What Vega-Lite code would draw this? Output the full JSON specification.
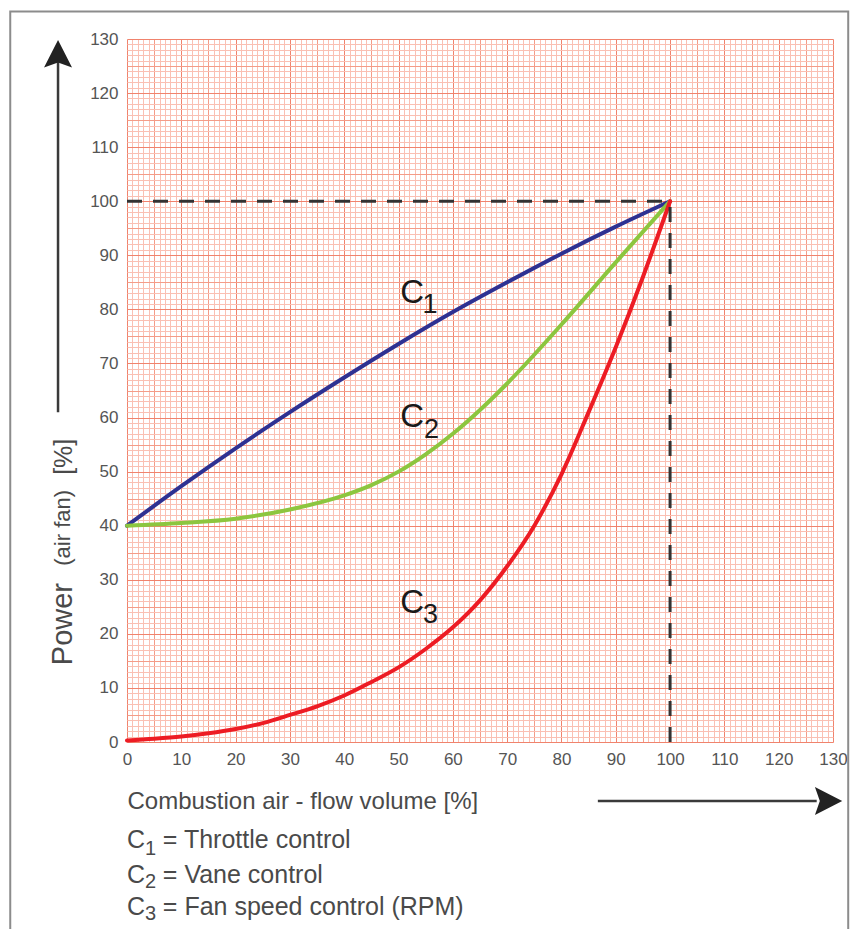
{
  "$schema": "https://vega.github.io/schema/vega-lite/v6.json",
  "width": 706,
  "height": 703,
  "autosize": {"type": "none"},
  "padding": {"left": 127, "top": 39, "right": 18, "bottom": 187},
  "background": "white",
  "config": {"view": {"stroke": null}, "font": "Liberation Sans"},
  "layer": [
    {
      "data": {"values": [{"x1": -21.5, "x2": 132.8, "y1": 135.1, "y2": -40}]},
      "mark": {"type": "rect", "fill": "white", "fillOpacity": 0, "stroke": "#8c8c8c", "strokeWidth": 2},
      "encoding": {
        "x": {"field": "x1", "type": "quantitative", "scale": {"domain": [0, 130], "nice": false, "zero": false}},
        "x2": {"field": "x2"},
        "y": {"field": "y1", "type": "quantitative", "scale": {"domain": [0, 130], "nice": false, "zero": false}},
        "y2": {"field": "y2"}
      }
    },
    {
      "data": {"values": [
        {"c": "C1", "x": 0, "y": 40}, {"c": "C1", "x": 10, "y": 47.3}, {"c": "C1", "x": 20, "y": 54.3}, {"c": "C1", "x": 30, "y": 61}, {"c": "C1", "x": 40, "y": 67.4}, {"c": "C1", "x": 50, "y": 73.6}, {"c": "C1", "x": 60, "y": 79.5}, {"c": "C1", "x": 70, "y": 85}, {"c": "C1", "x": 80, "y": 90.3}, {"c": "C1", "x": 90, "y": 95.3}, {"c": "C1", "x": 100, "y": 100},
        {"c": "C2", "x": 0, "y": 40}, {"c": "C2", "x": 10, "y": 40.5}, {"c": "C2", "x": 20, "y": 41.3}, {"c": "C2", "x": 30, "y": 43}, {"c": "C2", "x": 40, "y": 45.6}, {"c": "C2", "x": 45, "y": 47.5}, {"c": "C2", "x": 50, "y": 50}, {"c": "C2", "x": 55, "y": 53.2}, {"c": "C2", "x": 60, "y": 57}, {"c": "C2", "x": 65, "y": 61.4}, {"c": "C2", "x": 70, "y": 66.3}, {"c": "C2", "x": 80, "y": 77.2}, {"c": "C2", "x": 90, "y": 88.7}, {"c": "C2", "x": 100, "y": 100},
        {"c": "C3", "x": 0, "y": 0.3}, {"c": "C3", "x": 5, "y": 0.6}, {"c": "C3", "x": 10, "y": 1.0}, {"c": "C3", "x": 15, "y": 1.6}, {"c": "C3", "x": 20, "y": 2.4}, {"c": "C3", "x": 25, "y": 3.5}, {"c": "C3", "x": 30, "y": 5.0}, {"c": "C3", "x": 35, "y": 6.6}, {"c": "C3", "x": 40, "y": 8.6}, {"c": "C3", "x": 45, "y": 11.1}, {"c": "C3", "x": 50, "y": 13.8}, {"c": "C3", "x": 55, "y": 17.2}, {"c": "C3", "x": 60, "y": 21.2}, {"c": "C3", "x": 65, "y": 26.2}, {"c": "C3", "x": 70, "y": 32.5}, {"c": "C3", "x": 75, "y": 40}, {"c": "C3", "x": 80, "y": 49.5}, {"c": "C3", "x": 85, "y": 61}, {"c": "C3", "x": 90, "y": 73}, {"c": "C3", "x": 95, "y": 86}, {"c": "C3", "x": 100, "y": 100}
      ]},
      "mark": {"type": "line", "interpolate": "monotone", "strokeWidth": 4, "strokeCap": "round"},
      "encoding": {
        "x": {
          "field": "x", "type": "quantitative",
          "scale": {"domain": [0, 130], "nice": false, "zero": false},
          "axis": {
            "tickCount": 130, "grid": true,
            "gridColor": {"condition": [{"test": "datum.value % 10 === 0", "value": "#f0836d"}, {"test": "datum.value % 5 === 0", "value": "#f49c88"}], "value": "#fac0b3"},
            "gridWidth": 1, "domain": false, "ticks": false,
            "labelExpr": "datum.value % 10 === 0 ? datum.label : ''",
            "labelOverlap": false, "labelFlush": false, "labelBound": false,
            "labelFontSize": 17, "labelColor": "#555555", "labelPadding": 9,
            "title": "Combustion air - flow volume [%]",
            "titleFontSize": 24, "titleFontWeight": "normal", "titleColor": "#4a4a4a",
            "titleAnchor": "start", "titleAlign": "left", "titleX": 0, "titleY": 66, "titleBaseline": "alphabetic"
          }
        },
        "y": {
          "field": "y", "type": "quantitative",
          "scale": {"domain": [0, 130], "nice": false, "zero": false},
          "axis": {
            "tickCount": 130, "grid": true,
            "gridColor": {"condition": [{"test": "datum.value % 10 === 0", "value": "#f0836d"}, {"test": "datum.value % 5 === 0", "value": "#f49c88"}], "value": "#fac0b3"},
            "gridWidth": 1, "domain": false, "ticks": false,
            "labelExpr": "datum.value % 10 === 0 ? datum.label : ''",
            "labelOverlap": false, "labelFlush": false, "labelBound": false,
            "labelFontSize": 17, "labelColor": "#555555", "labelPadding": 9,
            "title": null
          }
        },
        "color": {"field": "c", "type": "nominal", "scale": {"domain": ["C1", "C2", "C3"], "range": ["#2e3192", "#8cc63f", "#ed1c24"]}, "legend": null}
      }
    },
    {
      "data": {"values": [{"x": 0, "x2": 100, "y": 100, "y2": 100}, {"x": 100, "x2": 100, "y": 0, "y2": 100}]},
      "mark": {"type": "rule", "color": "#333333", "strokeWidth": 3, "strokeDash": [15, 11]},
      "encoding": {
        "x": {"field": "x", "type": "quantitative", "scale": {"domain": [0, 130], "nice": false, "zero": false}},
        "x2": {"field": "x2"},
        "y": {"field": "y", "type": "quantitative", "scale": {"domain": [0, 130], "nice": false, "zero": false}},
        "y2": {"field": "y2"}
      }
    },
    {
      "data": {"values": [{"x": -12.7, "x2": -12.7, "y": 61, "y2": 126}, {"x": 86.7, "x2": 127, "y": -10.9, "y2": -10.9}]},
      "mark": {"type": "rule", "color": "#3a3a3a", "strokeWidth": 2.5},
      "encoding": {
        "x": {"field": "x", "type": "quantitative", "scale": {"domain": [0, 130], "nice": false, "zero": false}},
        "x2": {"field": "x2"},
        "y": {"field": "y", "type": "quantitative", "scale": {"domain": [0, 130], "nice": false, "zero": false}},
        "y2": {"field": "y2"}
      }
    },
    {
      "data": {"values": [{"x": -12.7, "y": 129.8}]},
      "mark": {"type": "point", "shape": "M0,0L1,1.95L0,1.6L-1,1.95Z", "size": 784, "filled": true, "color": "#222222", "opacity": 1},
      "encoding": {
        "x": {"field": "x", "type": "quantitative", "scale": {"domain": [0, 130], "nice": false, "zero": false}},
        "y": {"field": "y", "type": "quantitative", "scale": {"domain": [0, 130], "nice": false, "zero": false}}
      }
    },
    {
      "data": {"values": [{"x": 131.7, "y": -10.9}]},
      "mark": {"type": "point", "shape": "M0,0L-1.95,-1L-1.6,0L-1.95,1Z", "size": 784, "filled": true, "color": "#222222", "opacity": 1},
      "encoding": {
        "x": {"field": "x", "type": "quantitative", "scale": {"domain": [0, 130], "nice": false, "zero": false}},
        "y": {"field": "y", "type": "quantitative", "scale": {"domain": [0, 130], "nice": false, "zero": false}}
      }
    },
    {
      "data": {"values": [{"x": 50.3, "y": 81.1, "t": "C"}, {"x": 50.3, "y": 58.2, "t": "C"}, {"x": 50.3, "y": 23.8, "t": "C"}]},
      "mark": {"type": "text", "align": "left", "baseline": "alphabetic", "fontSize": 33, "color": "#1a1a1a"},
      "encoding": {
        "x": {"field": "x", "type": "quantitative", "scale": {"domain": [0, 130], "nice": false, "zero": false}},
        "y": {"field": "y", "type": "quantitative", "scale": {"domain": [0, 130], "nice": false, "zero": false}},
        "text": {"field": "t"}
      }
    },
    {
      "data": {"values": [{"x": 54.4, "y": 79.3, "t": "1"}, {"x": 54.7, "y": 56.2, "t": "2"}, {"x": 54.5, "y": 22.0, "t": "3"}]},
      "mark": {"type": "text", "align": "left", "baseline": "alphabetic", "fontSize": 27, "color": "#1a1a1a"},
      "encoding": {
        "x": {"field": "x", "type": "quantitative", "scale": {"domain": [0, 130], "nice": false, "zero": false}},
        "y": {"field": "y", "type": "quantitative", "scale": {"domain": [0, 130], "nice": false, "zero": false}},
        "text": {"field": "t"}
      }
    },
    {
      "data": {"values": [
        {"x": 0, "y": -19.6, "t": "C"}, {"x": 6.6, "y": -19.6, "t": "= Throttle control"},
        {"x": 0, "y": -26.1, "t": "C"}, {"x": 6.6, "y": -26.1, "t": "= Vane control"},
        {"x": 0, "y": -32.0, "t": "C"}, {"x": 6.6, "y": -32.0, "t": "= Fan speed control (RPM)"}
      ]},
      "mark": {"type": "text", "align": "left", "baseline": "alphabetic", "fontSize": 25, "color": "#4a4a4a"},
      "encoding": {
        "x": {"field": "x", "type": "quantitative", "scale": {"domain": [0, 130], "nice": false, "zero": false}},
        "y": {"field": "y", "type": "quantitative", "scale": {"domain": [0, 130], "nice": false, "zero": false}},
        "text": {"field": "t"}
      }
    },
    {
      "data": {"values": [{"x": 3.3, "y": -20.9, "t": "1"}, {"x": 3.3, "y": -27.0, "t": "2"}, {"x": 3.3, "y": -32.9, "t": "3"}]},
      "mark": {"type": "text", "align": "left", "baseline": "alphabetic", "fontSize": 20, "color": "#4a4a4a"},
      "encoding": {
        "x": {"field": "x", "type": "quantitative", "scale": {"domain": [0, 130], "nice": false, "zero": false}},
        "y": {"field": "y", "type": "quantitative", "scale": {"domain": [0, 130], "nice": false, "zero": false}},
        "text": {"field": "t"}
      }
    },
    {
      "data": {"values": [{"x": -10.1, "y": 14.2, "t": "Power"}]},
      "mark": {"type": "text", "align": "left", "baseline": "alphabetic", "angle": 270, "fontSize": 29, "color": "#4a4a4a"},
      "encoding": {
        "x": {"field": "x", "type": "quantitative", "scale": {"domain": [0, 130], "nice": false, "zero": false}},
        "y": {"field": "y", "type": "quantitative", "scale": {"domain": [0, 130], "nice": false, "zero": false}},
        "text": {"field": "t"}
      }
    },
    {
      "data": {"values": [{"x": -10.5, "y": 32.6, "t": "(air fan)"}]},
      "mark": {"type": "text", "align": "left", "baseline": "alphabetic", "angle": 270, "fontSize": 22, "color": "#4a4a4a"},
      "encoding": {
        "x": {"field": "x", "type": "quantitative", "scale": {"domain": [0, 130], "nice": false, "zero": false}},
        "y": {"field": "y", "type": "quantitative", "scale": {"domain": [0, 130], "nice": false, "zero": false}},
        "text": {"field": "t"}
      }
    },
    {
      "data": {"values": [{"x": -10.1, "y": 49.4, "t": "[%]"}]},
      "mark": {"type": "text", "align": "left", "baseline": "alphabetic", "angle": 270, "fontSize": 25, "color": "#4a4a4a"},
      "encoding": {
        "x": {"field": "x", "type": "quantitative", "scale": {"domain": [0, 130], "nice": false, "zero": false}},
        "y": {"field": "y", "type": "quantitative", "scale": {"domain": [0, 130], "nice": false, "zero": false}},
        "text": {"field": "t"}
      }
    }
  ]
}
